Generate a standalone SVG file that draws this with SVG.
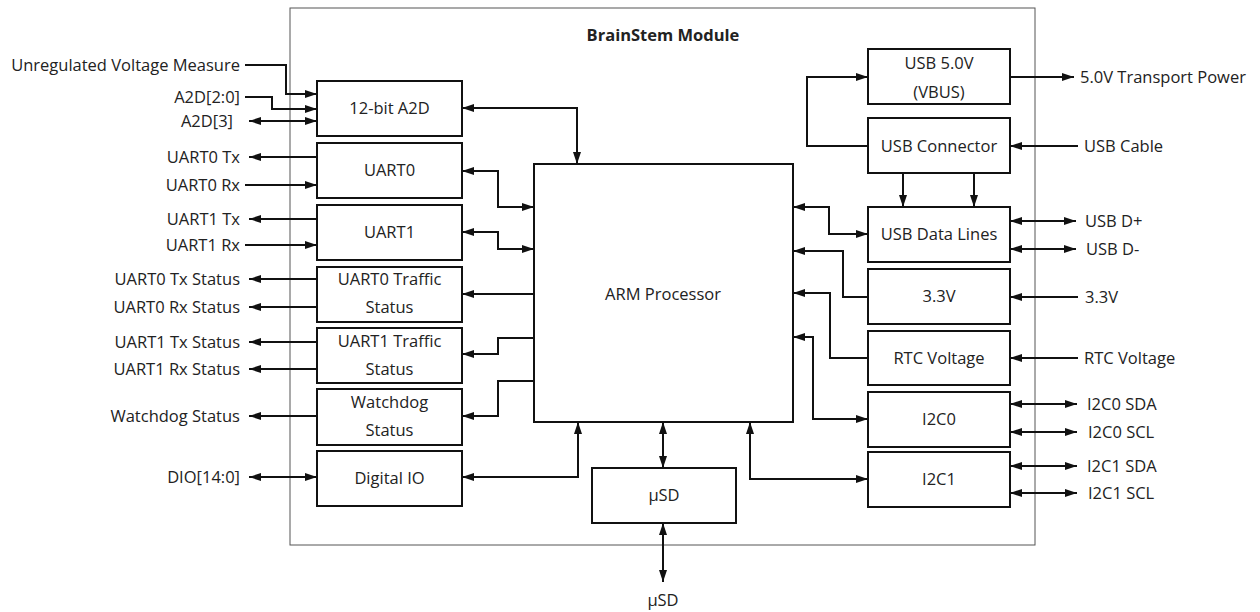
<svg xmlns="http://www.w3.org/2000/svg" width="1260" height="612" viewBox="0 0 1260 612">
<defs>
<marker id="ah" viewBox="0 0 12 8" refX="12" refY="4" markerWidth="12" markerHeight="8" markerUnits="userSpaceOnUse" orient="auto-start-reverse">
<path d="M0,0 L12,4 L0,8 z" fill="#111"/>
</marker>
<style>
.box{fill:#fff;stroke:#111;stroke-width:2}
.t{font-family:"Open Sans","Liberation Sans",Arial,sans-serif;font-size:16.5px;fill:#222}
.c{text-anchor:middle}
.r{text-anchor:end}
.w{fill:none;stroke:#111;stroke-width:2}
.e{marker-end:url(#ah)}
.b{marker-start:url(#ah);marker-end:url(#ah)}
</style>
</defs>
<rect width="1260" height="612" fill="#fff"/>
<g id="module">
<rect x="290" y="8" width="745" height="537" fill="none" stroke="#555" stroke-width="1"/>
<text class="t c" x="663" y="41" font-weight="bold" font-size="14">BrainStem Module</text>
</g>
<g id="connectors">
<path class="w e" d="M245,65 H286 V94 H317"/>
<path class="w e" d="M245,97 H272 V109 H317"/>
<path class="w b" d="M249,121 H317"/>
<path class="w e" d="M317,157 H249"/>
<path class="w e" d="M245,185 H317"/>
<path class="w e" d="M317,219 H249"/>
<path class="w e" d="M245,245 H317"/>
<path class="w e" d="M317,279 H249"/>
<path class="w e" d="M317,307 H249"/>
<path class="w e" d="M317,342 H249"/>
<path class="w e" d="M317,369 H249"/>
<path class="w e" d="M317,416 H249"/>
<path class="w b" d="M249,477 H317"/>
<path class="w b" d="M462,108 H577 V164"/>
<path class="w b" d="M462,171 H498 V207 H534"/>
<path class="w b" d="M462,232 H498 V249 H534"/>
<path class="w e" d="M534,294 H462"/>
<path class="w e" d="M534,338 H498 V354 H462"/>
<path class="w e" d="M534,381 H498 V416 H462"/>
<path class="w b" d="M462,477 H578 V422"/>
<path class="w b" d="M663,422 V468"/>
<path class="w b" d="M663,523 V582"/>
<path class="w b" d="M868,479 H750 V422"/>
<path class="w e" d="M868,146 H807 V77 H868"/>
<path class="w e" d="M1010,77 H1074"/>
<path class="w e" d="M1078,146 H1010"/>
<path class="w e" d="M903,173 V207"/>
<path class="w e" d="M974,173 V207"/>
<path class="w b" d="M793,207 H829 V234 H868"/>
<path class="w e" d="M868,297 H843 V251 H793"/>
<path class="w e" d="M868,358 H830 V293 H793"/>
<path class="w b" d="M793,337 H813 V419 H868"/>
<path class="w b" d="M1010,221 H1076"/>
<path class="w b" d="M1010,249 H1076"/>
<path class="w e" d="M1078,297 H1010"/>
<path class="w e" d="M1078,358 H1010"/>
<path class="w b" d="M1010,404 H1077"/>
<path class="w b" d="M1010,432 H1077"/>
<path class="w b" d="M1010,466 H1077"/>
<path class="w b" d="M1010,493 H1077"/>
</g>
<g id="labels-left">
<text class="t r" x="240" y="71">Unregulated Voltage Measure</text>
<text class="t r" x="240" y="103">A2D[2:0]</text>
<text class="t r" x="233" y="127">A2D[3]</text>
<text class="t r" x="240" y="163">UART0 Tx</text>
<text class="t r" x="240" y="191">UART0 Rx</text>
<text class="t r" x="240" y="225">UART1 Tx</text>
<text class="t r" x="240" y="251">UART1 Rx</text>
<text class="t r" x="240" y="285">UART0 Tx Status</text>
<text class="t r" x="240" y="313">UART0 Rx Status</text>
<text class="t r" x="240" y="348">UART1 Tx Status</text>
<text class="t r" x="240" y="375">UART1 Rx Status</text>
<text class="t r" x="240" y="422">Watchdog Status</text>
<text class="t r" x="240" y="483">DIO[14:0]</text>
</g>
<g id="labels-right">
<text class="t" x="1080" y="83">5.0V Transport Power</text>
<text class="t" x="1084" y="152">USB Cable</text>
<text class="t" x="1085" y="227">USB D+</text>
<text class="t" x="1086" y="255">USB D-</text>
<text class="t" x="1085" y="303">3.3V</text>
<text class="t" x="1084" y="364">RTC Voltage</text>
<text class="t" x="1087" y="410">I2C0 SDA</text>
<text class="t" x="1088" y="438">I2C0 SCL</text>
<text class="t" x="1087" y="472">I2C1 SDA</text>
<text class="t" x="1088" y="499">I2C1 SCL</text>
<text class="t c" x="663" y="606">µSD</text>
</g>
<g id="a2d"><rect class="box" x="317" y="81" width="145" height="55"/><text class="t c" x="389.5" y="114">12-bit A2D</text></g>
<g id="uart0"><rect class="box" x="317" y="143" width="145" height="55"/><text class="t c" x="389.5" y="176">UART0</text></g>
<g id="uart1"><rect class="box" x="317" y="205" width="145" height="55"/><text class="t c" x="389.5" y="238">UART1</text></g>
<g id="uart0-traffic"><rect class="box" x="317" y="267" width="145" height="55"/><text class="t c" x="389.5" y="285">UART0 Traffic</text><text class="t c" x="389.5" y="313">Status</text></g>
<g id="uart1-traffic"><rect class="box" x="317" y="328" width="145" height="55"/><text class="t c" x="389.5" y="347">UART1 Traffic</text><text class="t c" x="389.5" y="375">Status</text></g>
<g id="watchdog"><rect class="box" x="317" y="389" width="145" height="56"/><text class="t c" x="389.5" y="408">Watchdog</text><text class="t c" x="389.5" y="436">Status</text></g>
<g id="digital-io"><rect class="box" x="317" y="451" width="145" height="55"/><text class="t c" x="389.5" y="484">Digital IO</text></g>
<g id="arm"><rect class="box" x="534" y="164" width="259" height="258"/><text class="t c" x="663" y="300">ARM Processor</text></g>
<g id="usd"><rect class="box" x="592" y="468" width="144" height="55"/><text class="t c" x="664" y="501">µSD</text></g>
<g id="usb5v"><rect class="box" x="868" y="49" width="142" height="55"/><text class="t c" x="939" y="69">USB 5.0V</text><text class="t c" x="939" y="98">(VBUS)</text></g>
<g id="usb-connector"><rect class="box" x="868" y="118" width="142" height="55"/><text class="t c" x="939" y="152">USB Connector</text></g>
<g id="usb-data"><rect class="box" x="868" y="207" width="142" height="55"/><text class="t c" x="939" y="240">USB Data Lines</text></g>
<g id="v33"><rect class="box" x="868" y="269" width="142" height="55"/><text class="t c" x="939" y="302">3.3V</text></g>
<g id="rtc"><rect class="box" x="868" y="331" width="142" height="54"/><text class="t c" x="939" y="364">RTC Voltage</text></g>
<g id="i2c0"><rect class="box" x="868" y="392" width="142" height="55"/><text class="t c" x="939" y="425">I2C0</text></g>
<g id="i2c1"><rect class="box" x="868" y="452" width="142" height="55"/><text class="t c" x="939" y="485">I2C1</text></g>
</svg>
